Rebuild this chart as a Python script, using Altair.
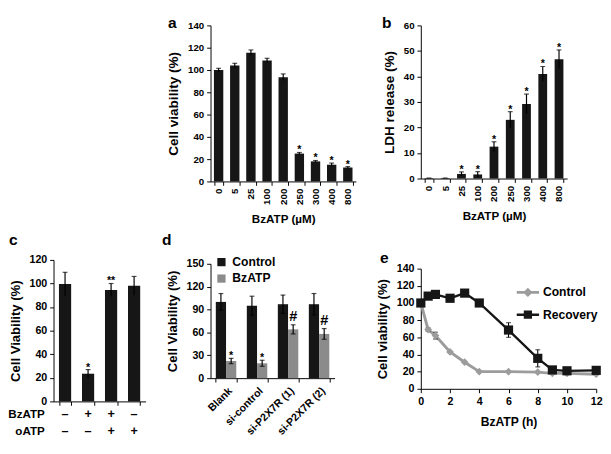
import altair as alt
import pandas as pd

FONT = "Liberation Sans"
BLACK = "#161616"
GRAY = "#8b8b8b"
LINEGRAY = "#9c9c9c"

# ---------------- data ----------------
doses = ["0", "5", "25", "100", "200", "250", "300", "400", "800"]
viab_mean = [100, 104, 115.5, 108.5, 93.5, 25, 18, 15, 12.5]
viab_err = [1.5, 2, 2.5, 2, 3, 1, 0.8, 1.5, 0.8]
viab_sig = ["", "", "", "", "", "*", "*", "*", "*"]

ldh_mean = [0.2, 0.2, 1.8, 1.6, 12.5, 23, 29.2, 41, 46.7]
ldh_err = [0, 0, 0.8, 1.1, 1.9, 3.2, 3.9, 2.9, 3.7]
ldh_sig = ["", "", "*", "*", "*", "*", "*", "*", "*"]

c_conds = ["c1", "c2", "c3", "c4"]
c_bzatp = ["–", "+", "+", "–"]
c_oatp = ["–", "–", "+", "+"]
c_mean = [99.5, 23.5, 94.5, 98]
c_err = [10, 3.5, 5.5, 8]
c_sig = ["", "*", "**", ""]

d_groups = ["Blank", "si-control", "si-P2X7R (1)", "si-P2X7R (2)"]
d_series = ["Control", "BzATP"]
d_ctrl_mean = [100, 95, 97, 97]
d_ctrl_err = [11, 12.5, 12, 14]
d_bz_mean = [22.5, 19.5, 64, 58]
d_bz_err = [3.5, 4, 6, 7]
d_bz_sig = ["*", "*", "#", "#"]

e_series = ["Control", "Recovery"]
e_hours = [0, 0.5, 1, 2, 3, 4, 6, 8, 9, 10, 12]
e_ctrl_mean = [100, 69, 62, 43, 31, 20, 20, 19.5, 18, 18, 17]
e_ctrl_err = [0, 2, 4, 1.5, 1.5, 1, 1, 1, 1, 1, 1]
e_rec_mean = [100, 108, 110, 105.5, 111.5, 100, 68.5, 35.5, 22, 21, 21.5]
e_rec_err = [0, 2, 2, 2, 2.5, 1.5, 8.5, 10, 2, 1.5, 2]


def letter_layer(ch, x, y):
    return alt.Chart(pd.DataFrame({"t": [ch]})).mark_text(
        font=FONT, fontSize=16, fontWeight="bold", align="left",
        baseline="alphabetic", color="black"
    ).encode(text="t:N", x=alt.value(x), y=alt.value(y))


def text_at(txt, x, y, size=12, align="right"):
    return alt.Chart(pd.DataFrame({"t": [txt]})).mark_text(
        font=FONT, fontSize=size, fontWeight="bold", align=align,
        baseline="middle", color="black"
    ).encode(text="t:N", x=alt.value(x), y=alt.value(y))


def bar_panel(cats, mean, err, sig, ydomain, yvalues, ytitle, xtitle,
              label_angle, label_size, title_size, letter, lx, ly, pad,
              show_xlabels=True, star_size=11):
    df = pd.DataFrame({
        "cat": cats, "mean": mean,
        "lo": [m - e for m, e in zip(mean, err)],
        "hi": [m + e for m, e in zip(mean, err)],
        "sig": sig,
    })
    xax_kw = dict(tickBand="extent", labelFontSize=label_size, labelPadding=3,
                  tickSize=4, titlePadding=10, labels=show_xlabels,
                  title=xtitle if xtitle else "", titleFontSize=12)
    if show_xlabels:
        xax_kw["labelAngle"] = label_angle
    x = alt.X("cat:N", sort=cats,
              scale=alt.Scale(paddingInner=pad, paddingOuter=pad / 2),
              axis=alt.Axis(**xax_kw))
    ys = alt.Scale(domain=ydomain, nice=False, zero=True)
    yax = alt.Axis(values=yvalues, title=ytitle, labelFontSize=label_size,
                   tickSize=4, labelPadding=3, titlePadding=7,
                   titleFontSize=title_size)
    base = alt.Chart(df)
    bars = base.mark_bar(color=BLACK).encode(
        x=x, y=alt.Y("mean:Q", scale=ys, axis=yax))
    rule = base.mark_rule(color="black", strokeWidth=1.2).encode(
        x=x, y=alt.Y("lo:Q", scale=ys, axis=yax), y2="hi:Q")
    cap = base.mark_tick(color="black", thickness=1.2, size=5,
                         orient="horizontal").encode(
        x=x, y=alt.Y("hi:Q", scale=ys, axis=yax))
    stars = base.mark_text(font=FONT, fontSize=star_size, fontWeight="bold",
                           baseline="alphabetic", dy=1, color="black").encode(
        x=x, y=alt.Y("hi:Q", scale=ys, axis=yax), text="sig:N")
    layers = [bars, rule, cap, stars, letter_layer(letter, lx, ly)]
    return layers, x


# ---------------- panel a ----------------
a_layers, _ = bar_panel(
    doses, viab_mean, viab_err, viab_sig, [0, 140],
    list(range(0, 141, 20)), "Cell viability (%)", "BzATP (µM)", 270, 10, 14,
    "a", -44, 2.5, 0.42)
panel_a = alt.layer(*a_layers).properties(width=150, height=161)

# ---------------- panel b ----------------
b_layers, _ = bar_panel(
    doses, ldh_mean, ldh_err, ldh_sig, [0, 60],
    list(range(0, 61, 10)), "LDH release (%)", "BzATP (µM)", 270, 10, 14,
    "b", -40, 2.5, 0.46)
panel_b = alt.layer(*b_layers).properties(width=151, height=158)

# ---------------- panel c ----------------
c_h = 146
c_layers, c_x = bar_panel(
    c_conds, c_mean, c_err, c_sig, [0, 120],
    list(range(0, 121, 20)), "Cell Viability (%)", None, 0, 11, 13.5,
    "c", -46, -15, 0.47, show_xlabels=False)
c_sign_df = pd.DataFrame({"cat": c_conds, "bz": c_bzatp, "oa": c_oatp})
c_sign1 = alt.Chart(c_sign_df).mark_text(
    font=FONT, fontSize=13, fontWeight="bold", baseline="middle", color="black"
).encode(x=c_x, y=alt.value(c_h + 13), text="bz:N")
c_sign2 = alt.Chart(c_sign_df).mark_text(
    font=FONT, fontSize=13, fontWeight="bold", baseline="middle", color="black"
).encode(x=c_x, y=alt.value(c_h + 31), text="oa:N")
panel_c = alt.layer(
    *c_layers, c_sign1, c_sign2,
    text_at("BzATP", -9, c_h + 13), text_at("oATP", -9, c_h + 31)
).properties(width=95, height=c_h)

# ---------------- panel d ----------------
d_h = 122
rows = []
for i, g in enumerate(d_groups):
    rows.append({"grp": g, "cond": "Control", "mean": d_ctrl_mean[i],
                 "lo": d_ctrl_mean[i] - d_ctrl_err[i],
                 "hi": d_ctrl_mean[i] + d_ctrl_err[i], "sig": ""})
    rows.append({"grp": g, "cond": "BzATP", "mean": d_bz_mean[i],
                 "lo": d_bz_mean[i] - d_bz_err[i],
                 "hi": d_bz_mean[i] + d_bz_err[i], "sig": d_bz_sig[i]})
d_df = pd.DataFrame(rows)
d_x = alt.X("grp:N", sort=d_groups,
            scale=alt.Scale(paddingInner=0.34, paddingOuter=0.17),
            axis=alt.Axis(title="", labelAngle=315, tickBand="extent",
                          labelFontSize=11, labelPadding=3, tickSize=4))
d_xo = alt.XOffset("cond:N", sort=d_series,
                   scale=alt.Scale(paddingInner=0, paddingOuter=0))
d_ys = alt.Scale(domain=[0, 150], range=[d_h, 4], nice=False)
d_yax = alt.Axis(values=list(range(0, 151, 30)), title="Cell Viability (%)",
                 labelFontSize=11, tickSize=4, labelPadding=3, titlePadding=7,
                 titleFontSize=13.5)
d_base = alt.Chart(d_df)
d_bars = d_base.mark_bar().encode(
    x=d_x, xOffset=d_xo, y=alt.Y("mean:Q", scale=d_ys, axis=d_yax),
    color=alt.Color("cond:N", scale=alt.Scale(domain=d_series,
                                              range=[BLACK, GRAY]),
                    legend=alt.Legend(title=None, orient="none", legendX=5,
                                      legendY=-4, symbolType="square",
                                      symbolSize=72, symbolStrokeWidth=0,
                                      labelFontSize=12.5, rowPadding=4,
                                      padding=0, labelOffset=5)))
d_rule = d_base.mark_rule(color="black", strokeWidth=1.2).encode(
    x=d_x, xOffset=d_xo, y=alt.Y("lo:Q", scale=d_ys, axis=d_yax), y2="hi:Q")
d_cap_hi = d_base.mark_tick(color="black", thickness=1.2, size=5,
                            orient="horizontal").encode(
    x=d_x, xOffset=d_xo, y=alt.Y("hi:Q", scale=d_ys, axis=d_yax))
d_cap_lo = d_base.mark_tick(color="black", thickness=1.2, size=5,
                            orient="horizontal").encode(
    x=d_x, xOffset=d_xo, y=alt.Y("lo:Q", scale=d_ys, axis=d_yax))
d_star = d_base.transform_filter("datum.sig == '*'").mark_text(
    font=FONT, fontSize=11, fontWeight="bold", baseline="alphabetic", dy=1,
    color="black").encode(
    x=d_x, xOffset=d_xo, y=alt.Y("hi:Q", scale=d_ys, axis=d_yax), text="sig:N")
d_hash = d_base.transform_filter("datum.sig == '#'").mark_text(
    font=FONT, fontSize=15, fontWeight="bold", baseline="alphabetic", dy=-4,
    color="black").encode(
    x=d_x, xOffset=d_xo, y=alt.Y("hi:Q", scale=d_ys, axis=d_yax), text="sig:N")
panel_d = alt.layer(d_bars, d_rule, d_cap_hi, d_cap_lo, d_star, d_hash,
                    letter_layer("d", -50, -15)).properties(width=128, height=d_h)

# ---------------- panel e ----------------
e_h = 133
e_rows = []
for i, hr in enumerate(e_hours):
    e_rows.append({"h": hr, "series": "Control", "v": e_ctrl_mean[i],
                   "lo": e_ctrl_mean[i] - e_ctrl_err[i],
                   "hi": e_ctrl_mean[i] + e_ctrl_err[i], "err": e_ctrl_err[i]})
    e_rows.append({"h": hr, "series": "Recovery", "v": e_rec_mean[i],
                   "lo": e_rec_mean[i] - e_rec_err[i],
                   "hi": e_rec_mean[i] + e_rec_err[i], "err": e_rec_err[i]})
e_df = pd.DataFrame(e_rows)
e_x = alt.X("h:Q", scale=alt.Scale(domain=[0, 12], nice=False),
            axis=alt.Axis(values=list(range(0, 13, 2)), title="BzATP (h)",
                          labelFontSize=11, tickSize=4, labelPadding=3,
                          titlePadding=10, labelFlush=False, titleFontSize=12.5))
e_ys = alt.Scale(domain=[0, 140], range=[e_h, 9], nice=False)
e_yax = alt.Axis(values=list(range(0, 141, 20)), title="Cell viability (%)",
                 labelFontSize=11, tickSize=4, labelPadding=3, titlePadding=7,
                 titleFontSize=13.5)
e_cscale = alt.Scale(domain=e_series, range=[LINEGRAY, BLACK])
PATH_CTRL = ("M-1,-0.13H1V0.13H-1Z"
             "M-0.42,0L0,-0.42L0.42,0L0,0.42Z")
PATH_REC = ("M-1,-0.11H1V0.11H-1Z"
            "M-0.37,-0.37H0.37V0.37H-0.37Z")
e_legend = alt.Legend(title=None, orient="none", legendX=99, legendY=22,
                      symbolSize=529, symbolStrokeWidth=0, labelFontSize=12.5,
                      rowPadding=5, padding=0, labelOffset=4, symbolOpacity=1)
e_base = alt.Chart(e_df)
e_yv = alt.Y("v:Q", scale=e_ys, axis=e_yax)
e_col = alt.Color("series:N", scale=e_cscale, legend=e_legend)
e_dummy = e_base.transform_filter("false").mark_point(
    filled=True, opacity=1).encode(
    x=e_x, y=e_yv, color=e_col,
    shape=alt.Shape("series:N", scale=alt.Scale(domain=e_series,
                                                range=[PATH_CTRL, PATH_REC]),
                    legend=e_legend))
e_line_ctrl = e_base.transform_filter("datum.series == 'Control'").mark_line(
    strokeWidth=3).encode(x=e_x, y=e_yv, color=e_col)
e_line_rec = e_base.transform_filter("datum.series == 'Recovery'").mark_line(
    strokeWidth=2.4).encode(x=e_x, y=e_yv, color=e_col)
e_err_rule = e_base.transform_filter("datum.err > 1.5").mark_rule(
    color="black", strokeWidth=1.1).encode(
    x=e_x, y=alt.Y("lo:Q", scale=e_ys, axis=e_yax), y2="hi:Q")
e_err_hi = e_base.transform_filter("datum.err > 1.5").mark_tick(
    color="black", thickness=1.1, size=5, orient="horizontal").encode(
    x=e_x, y=alt.Y("hi:Q", scale=e_ys, axis=e_yax))
e_err_lo = e_base.transform_filter("datum.err > 1.5").mark_tick(
    color="black", thickness=1.1, size=5, orient="horizontal").encode(
    x=e_x, y=alt.Y("lo:Q", scale=e_ys, axis=e_yax))
e_pt_ctrl = e_base.transform_filter("datum.series == 'Control'").mark_point(
    shape="diamond", filled=True, size=64, opacity=1).encode(
    x=e_x, y=e_yv, color=e_col)
e_pt_rec = e_base.transform_filter("datum.series == 'Recovery'").mark_point(
    shape="square", filled=True, size=90, opacity=1).encode(
    x=e_x, y=e_yv, color=e_col)
panel_e = alt.layer(e_dummy, e_line_ctrl, e_line_rec, e_err_rule, e_err_hi,
                    e_err_lo, e_pt_ctrl, e_pt_rec,
                    letter_layer("e", -42, 3.3)
                    ).properties(width=181, height=e_h)

# ---------------- layout ----------------
spacer = alt.Chart(pd.DataFrame({"s": [0]})).mark_point(opacity=0).encode(
    x=alt.X("s:Q", axis=None), y=alt.Y("s:Q", axis=None)
).properties(width=22, height=161)

chart = alt.concat(
    spacer, panel_a, panel_b, panel_c, panel_d, panel_e,
    columns=3, bounds="flush",
    align=alt.RowColLayoutAlign(row="each", column="none"),
    spacing=alt.RowColnumber(row=81, column=67),
).resolve_scale(
    color="independent", shape="independent"
).resolve_legend(
    color="independent", shape="independent"
).properties(
    padding=0
).configure_view(stroke=None).configure_axis(
    labelFont=FONT, titleFont=FONT, labelFontWeight="bold",
    titleFontWeight="bold", labelColor="black", titleColor="black",
    domainColor="black", tickColor="black", grid=False,
    domainWidth=1, tickWidth=1
).configure_legend(
    labelFont=FONT, labelFontWeight="bold", labelColor="black"
).configure_text(font=FONT)

chart.save("out.html", embed_options={"renderer": "svg", "actions": False})
